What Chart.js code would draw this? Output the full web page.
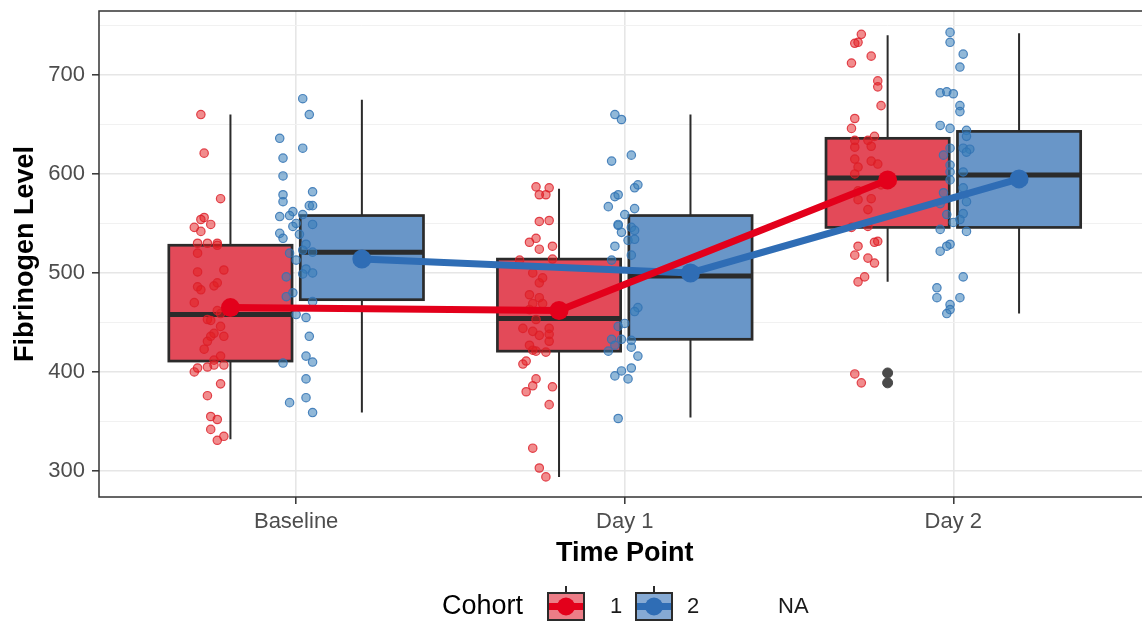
<!DOCTYPE html>
<html>
<head>
<meta charset="utf-8">
<script src="https://cdn.jsdelivr.net/npm/chart.js@4.4.1/dist/chart.umd.min.js"></script>
<style>
html, body { margin: 0; padding: 0; background: #fff; overflow: hidden; }
#wrap { width: 1142px; height: 621px; overflow: hidden; position: relative; }
canvas { display: block; }
</style>
</head>
<body>
<div id="wrap"><canvas id="chart" width="1160" height="621"></canvas></div>
<script>
'use strict';
// categories
var timePoints = ['Baseline', 'Day 1', 'Day 2'];
var cohorts = ['1', '2'];
var yTicks = [300, 350, 400, 450, 500, 550, 600, 650, 700, 750];

// box stats per time point (cohort 1)
var c1Lower = [332, 294, 491];
var c1Q1 = [411, 421, 546];
var c1Median = [458, 454, 596];
var c1Q3 = [528, 514, 636];
var c1Upper = [660, 585, 740];
var c1Mean = [465, 462, 594];
// box stats per time point (cohort 2)
var c2Lower = [359, 354, 459];
var c2Q1 = [473, 433, 546];
var c2Median = [521, 497, 599];
var c2Q3 = [558, 558, 643];
var c2Upper = [675, 660, 742];
var c2Mean = [514, 500, 595];
// outliers: [time point index, value] (cohort 1)
var c1Outliers = [[2, 399], [2, 389]];

// jittered raw points: [offset from time point, value]
var baselineC1 = [[-0.29,660],[-0.28,621],[-0.23,575],[-0.28,556],[-0.29,554],[-0.26,549],[-0.31,546],[-0.29,542],
  [-0.30,530],[-0.27,530],[-0.24,530],[-0.24,528],[-0.30,520],[-0.22,503],[-0.30,501],[-0.24,490],[-0.25,487],
  [-0.30,486],[-0.29,483],[-0.31,470],[-0.24,462],[-0.23,459],[-0.27,453],[-0.26,452],[-0.23,446],[-0.25,439],
  [-0.22,436],[-0.26,436],[-0.27,431],[-0.28,423],[-0.23,416],[-0.25,412],[-0.22,407],[-0.25,407],[-0.27,405],
  [-0.30,404],[-0.31,400],[-0.23,388],[-0.27,376],[-0.26,355],[-0.24,352],[-0.26,342],[-0.22,335],[-0.24,331]];
var baselineC2 = [[0.02,676],[0.04,660],[-0.05,636],[0.02,626],[-0.04,616],[-0.04,598],[-0.04,579],[-0.04,572],
  [0.05,582],[0.04,568],[0.05,568],[-0.01,562],[-0.02,558],[-0.05,557],[0.02,559],[0.00,550],[-0.01,547],[0.05,549],
  [-0.05,540],[-0.04,535],[0.01,539],[0.03,529],[0.02,523],[0.05,521],[-0.02,520],[0.00,513],[0.03,504],[0.05,500],
  [0.02,499],[-0.03,496],[-0.01,480],[-0.03,476],[0.05,471],[0.00,458],[0.03,455],[0.04,436],[0.03,416],[0.05,410],
  [-0.04,409],[0.03,393],[0.03,374],[-0.02,369],[0.05,359]];
var day1C1 = [[-0.27,587],[-0.23,586],[-0.26,579],[-0.24,579],[-0.26,552],[-0.23,553],[-0.29,531],[-0.27,535],
  [-0.26,524],[-0.22,527],[-0.32,513],[-0.22,514],[-0.28,500],[-0.26,490],[-0.25,495],[-0.29,478],[-0.26,475],
  [-0.28,469],[-0.25,469],[-0.29,463],[-0.27,453],[-0.23,444],[-0.31,444],[-0.28,441],[-0.26,437],[-0.23,438],
  [-0.23,431],[-0.29,427],[-0.28,422],[-0.24,420],[-0.27,421],[-0.30,411],[-0.31,408],[-0.27,393],[-0.30,380],
  [-0.28,386],[-0.22,385],[-0.23,367],[-0.28,323],[-0.26,303],[-0.24,294]];
var day1C2 = [[-0.03,660],[-0.01,655],[-0.04,613],[0.02,619],[0.03,586],[0.04,589],[-0.03,577],[-0.02,579],
  [-0.05,567],[0.03,565],[0.00,559],[-0.02,548],[0.02,546],[0.03,543],[-0.01,541],[0.01,533],[0.03,534],[-0.03,527],
  [0.02,518],[-0.04,513],[0.04,465],[0.03,461],[-0.02,446],[0.00,449],[-0.04,433],[-0.01,433],[0.02,432],[-0.03,427],
  [-0.05,421],[0.02,425],[0.04,416],[0.02,404],[-0.01,401],[-0.03,396],[0.01,393],[-0.02,353],[-0.02,549]];
var day2C1 = [[-0.28,741],[-0.30,732],[-0.29,733],[-0.25,719],[-0.31,712],[-0.23,694],[-0.23,688],[-0.22,669],
  [-0.30,656],[-0.31,646],[-0.24,638],[-0.26,634],[-0.30,634],[-0.30,627],[-0.25,628],[-0.30,615],[-0.25,613],
  [-0.23,610],[-0.29,607],[-0.30,600],[-0.22,589],[-0.29,583],[-0.29,574],[-0.25,575],[-0.26,564],[-0.26,547],
  [-0.31,546],[-0.29,527],[-0.24,531],[-0.23,532],[-0.30,518],[-0.26,515],[-0.24,510],[-0.27,496],[-0.29,491],
  [-0.30,398],[-0.28,389]];
var day2C2 = [[-0.01,743],[-0.01,733],[0.03,721],[0.02,708],[-0.04,682],[-0.02,683],[0.00,681],[0.02,669],
  [0.02,663],[-0.04,649],[-0.01,646],[0.04,644],[0.04,638],[0.03,626],[0.05,625],[0.04,622],[-0.01,626],[-0.03,619],
  [-0.01,609],[-0.01,602],[0.03,602],[-0.01,594],[0.03,586],[-0.03,581],[0.04,572],[-0.04,570],[0.03,560],[-0.02,559],
  [0.02,554],[0.00,551],[0.04,542],[-0.04,544],[-0.01,529],[-0.02,527],[-0.04,522],[0.03,496],[-0.05,485],[-0.05,475],
  [0.02,475],[-0.01,468],[-0.01,463],[-0.02,459]];

// layout / style constants
var dodge = [-0.2, 0.2];
var boxWidth = 0.375;
var boxFill = ['#E34A59', '#6996C8'];
var keyFill = ['#EC7D87', '#86AAD4'];
var meanColor = ['#E3001B', '#2F6DB5'];
var pointFill = ['rgba(228, 26, 28, 0.5)', 'rgba(55, 126, 184, 0.55)'];
var pointBorder = ['rgba(220, 30, 40, 0.8)', 'rgba(50, 115, 180, 0.85)'];
var dark = '#2b2b2b';

Chart.defaults.font.family = "'Liberation Sans', Arial, Helvetica, sans-serif";

function toPoints(list, tpIndex) {
    return list.map(p => ({ x: tpIndex + 1 + p[0], y: p[1] }));
}

var c1Jitter = [].concat(toPoints(baselineC1, 0), toPoints(day1C1, 1), toPoints(day2C1, 2));
var c2Jitter = [].concat(toPoints(baselineC2, 0), toPoints(day1C2, 1), toPoints(day2C2, 2));

var stats = [
    { lower: c1Lower, q1: c1Q1, median: c1Median, q3: c1Q3, upper: c1Upper },
    { lower: c2Lower, q1: c2Q1, median: c2Median, q3: c2Q3, upper: c2Upper }
];

var boxPlugin = {
    id: 'boxes',
    beforeDatasetsDraw: function(chart) {
        let ctx = chart.ctx;
        let xs = chart.scales.x;
        let ys = chart.scales.y;
        ctx.save();
        stats.forEach((s, k) => {
            timePoints.forEach((t, i) => {
                let cx = i + 1 + dodge[k];
                let xm = xs.getPixelForValue(cx);
                let x0 = xs.getPixelForValue(cx - boxWidth / 2);
                let x1 = xs.getPixelForValue(cx + boxWidth / 2);
                // whiskers
                ctx.strokeStyle = dark;
                ctx.lineWidth = 2;
                ctx.beginPath();
                ctx.moveTo(xm, ys.getPixelForValue(s.upper[i]));
                ctx.lineTo(xm, ys.getPixelForValue(s.q3[i]));
                ctx.moveTo(xm, ys.getPixelForValue(s.q1[i]));
                ctx.lineTo(xm, ys.getPixelForValue(s.lower[i]));
                ctx.stroke();
                // box
                let yTop = ys.getPixelForValue(s.q3[i]);
                let yBot = ys.getPixelForValue(s.q1[i]);
                ctx.fillStyle = boxFill[k];
                ctx.fillRect(x0, yTop, x1 - x0, yBot - yTop);
                ctx.lineWidth = 2.7;
                ctx.strokeRect(x0, yTop, x1 - x0, yBot - yTop);
                // median
                let yMed = ys.getPixelForValue(s.median[i]);
                ctx.lineWidth = 5;
                ctx.beginPath();
                ctx.moveTo(x0, yMed);
                ctx.lineTo(x1, yMed);
                ctx.stroke();
            });
        });
        ctx.restore();
    },
    afterDraw: function(chart) {
        let ctx = chart.ctx;
        let a = chart.chartArea;
        ctx.save();
        // panel border
        ctx.strokeStyle = '#333333';
        ctx.lineWidth = 1.5;
        ctx.strokeRect(a.left, a.top, a.right - a.left, a.bottom - a.top);

        // legend
        ctx.fillStyle = '#000';
        ctx.textBaseline = 'middle';
        ctx.font = "27px 'Liberation Sans', Arial, sans-serif";
        ctx.fillText('Cohort', 442, 607);
        let keyX = [548, 636];
        let labelX = [610, 687];
        cohorts.forEach((c, k) => {
            let x0 = keyX[k], w = 36, y0 = 593, h = 27;
            let xm = x0 + w / 2, ym = y0 + h / 2;
            ctx.strokeStyle = dark;
            ctx.lineWidth = 2;
            ctx.beginPath();
            ctx.moveTo(xm, y0 - 7);
            ctx.lineTo(xm, y0);
            ctx.moveTo(xm, y0 + h);
            ctx.lineTo(xm, y0 + h + 7);
            ctx.stroke();
            ctx.fillStyle = keyFill[k];
            ctx.fillRect(x0, y0, w, h);
            ctx.lineWidth = 2;
            ctx.strokeRect(x0, y0, w, h);
            ctx.strokeStyle = meanColor[k];
            ctx.lineWidth = 7;
            ctx.beginPath();
            ctx.moveTo(x0 + 1, ym);
            ctx.lineTo(x0 + w - 1, ym);
            ctx.stroke();
            ctx.fillStyle = meanColor[k];
            ctx.beginPath();
            ctx.arc(xm, ym, 9, 0, Math.PI * 2);
            ctx.fill();
            ctx.fillStyle = '#1a1a1a';
            ctx.font = "22px 'Liberation Sans', Arial, sans-serif";
            ctx.fillText(c, labelX[k], ym);
        });
        ctx.fillText('NA', 778, 607);
        ctx.restore();
    }
};

var data = {
    datasets: [
        {
            type: 'line',
            label: 'Cohort 1 mean',
            order: 0,
            data: c1Mean.map((v, i) => ({ x: i + 1 + dodge[0], y: v })),
            borderColor: meanColor[0],
            backgroundColor: meanColor[0],
            borderWidth: 7,
            pointRadius: 9.5,
            pointBorderWidth: 0,
            tension: 0
        },
        {
            type: 'line',
            label: 'Cohort 2 mean',
            order: 0,
            data: c2Mean.map((v, i) => ({ x: i + 1 + dodge[1], y: v })),
            borderColor: meanColor[1],
            backgroundColor: meanColor[1],
            borderWidth: 7,
            pointRadius: 9.5,
            pointBorderWidth: 0,
            tension: 0
        },
        {
            type: 'scatter',
            label: 'Cohort 1',
            order: 1,
            data: c1Jitter,
            backgroundColor: pointFill[0],
            borderColor: pointBorder[0],
            borderWidth: 1.2,
            pointRadius: 4.2
        },
        {
            type: 'scatter',
            label: 'Cohort 2',
            order: 1,
            data: c2Jitter,
            backgroundColor: pointFill[1],
            borderColor: pointBorder[1],
            borderWidth: 1.2,
            pointRadius: 4.2
        },
        {
            type: 'scatter',
            label: 'Outliers',
            order: 2,
            data: c1Outliers.map(o => ({ x: o[0] + 1 + dodge[0], y: o[1] })),
            backgroundColor: '#4a4a4a',
            borderColor: '#4a4a4a',
            pointRadius: 5
        }
    ]
};

var config = {
    type: 'scatter',
    data: data,
    options: {
        responsive: false,
        animation: false,
        devicePixelRatio: 1,
        layout: { padding: { top: 11, right: 7, bottom: 44, left: 0 } },
        plugins: {
            legend: { display: false },
            tooltip: { enabled: false }
        },
        scales: {
            x: {
                type: 'linear',
                min: 0.4,
                max: 3.6,
                afterBuildTicks: scale => {
                    scale.ticks = timePoints.map((t, i) => ({ value: i + 1 }));
                },
                afterFit: scale => {
                    scale.height = 80;
                    scale.paddingLeft = 0;
                    scale.paddingRight = 0;
                },
                ticks: {
                    autoSkip: false,
                    maxRotation: 0,
                    padding: 5,
                    color: '#4d4d4d',
                    font: { size: 22 },
                    callback: value => timePoints[Math.round(value) - 1]
                },
                grid: {
                    color: '#e6e6e6',
                    lineWidth: 1.6,
                    tickLength: 7,
                    tickColor: '#333333',
                    tickWidth: 1.5
                },
                border: { display: false },
                title: {
                    display: true,
                    text: 'Time Point',
                    color: '#000',
                    font: { size: 27, weight: 'bold' },
                    padding: { top: 0, bottom: 7 }
                }
            },
            y: {
                min: 273.7,
                max: 764.6,
                afterBuildTicks: scale => {
                    scale.ticks = yTicks.map(v => ({ value: v }));
                },
                afterFit: scale => {
                    scale.width = 99;
                    scale.paddingTop = 0;
                    scale.paddingBottom = 0;
                },
                ticks: {
                    padding: 7,
                    color: '#4d4d4d',
                    font: { size: 22 },
                    callback: value => (value % 100 === 0 ? String(value) : '')
                },
                grid: {
                    color: ctx => (ctx.tick && ctx.tick.value % 100 === 0 ? '#e6e6e6' : '#f1f1f1'),
                    lineWidth: ctx => (ctx.tick && ctx.tick.value % 100 === 0 ? 1.6 : 1),
                    tickLength: 7,
                    tickColor: ctx => (ctx.tick && ctx.tick.value % 100 === 0 ? '#333333' : 'rgba(0,0,0,0)'),
                    tickWidth: 1.5
                },
                border: { display: false },
                title: {
                    display: true,
                    text: 'Fibrinogen Level',
                    color: '#000',
                    font: { size: 27, weight: 'bold' },
                    padding: { top: 9, bottom: 0 }
                }
            }
        }
    },
    plugins: [boxPlugin]
};

new Chart(document.getElementById('chart').getContext('2d'), config);
</script>
</body>
</html>
